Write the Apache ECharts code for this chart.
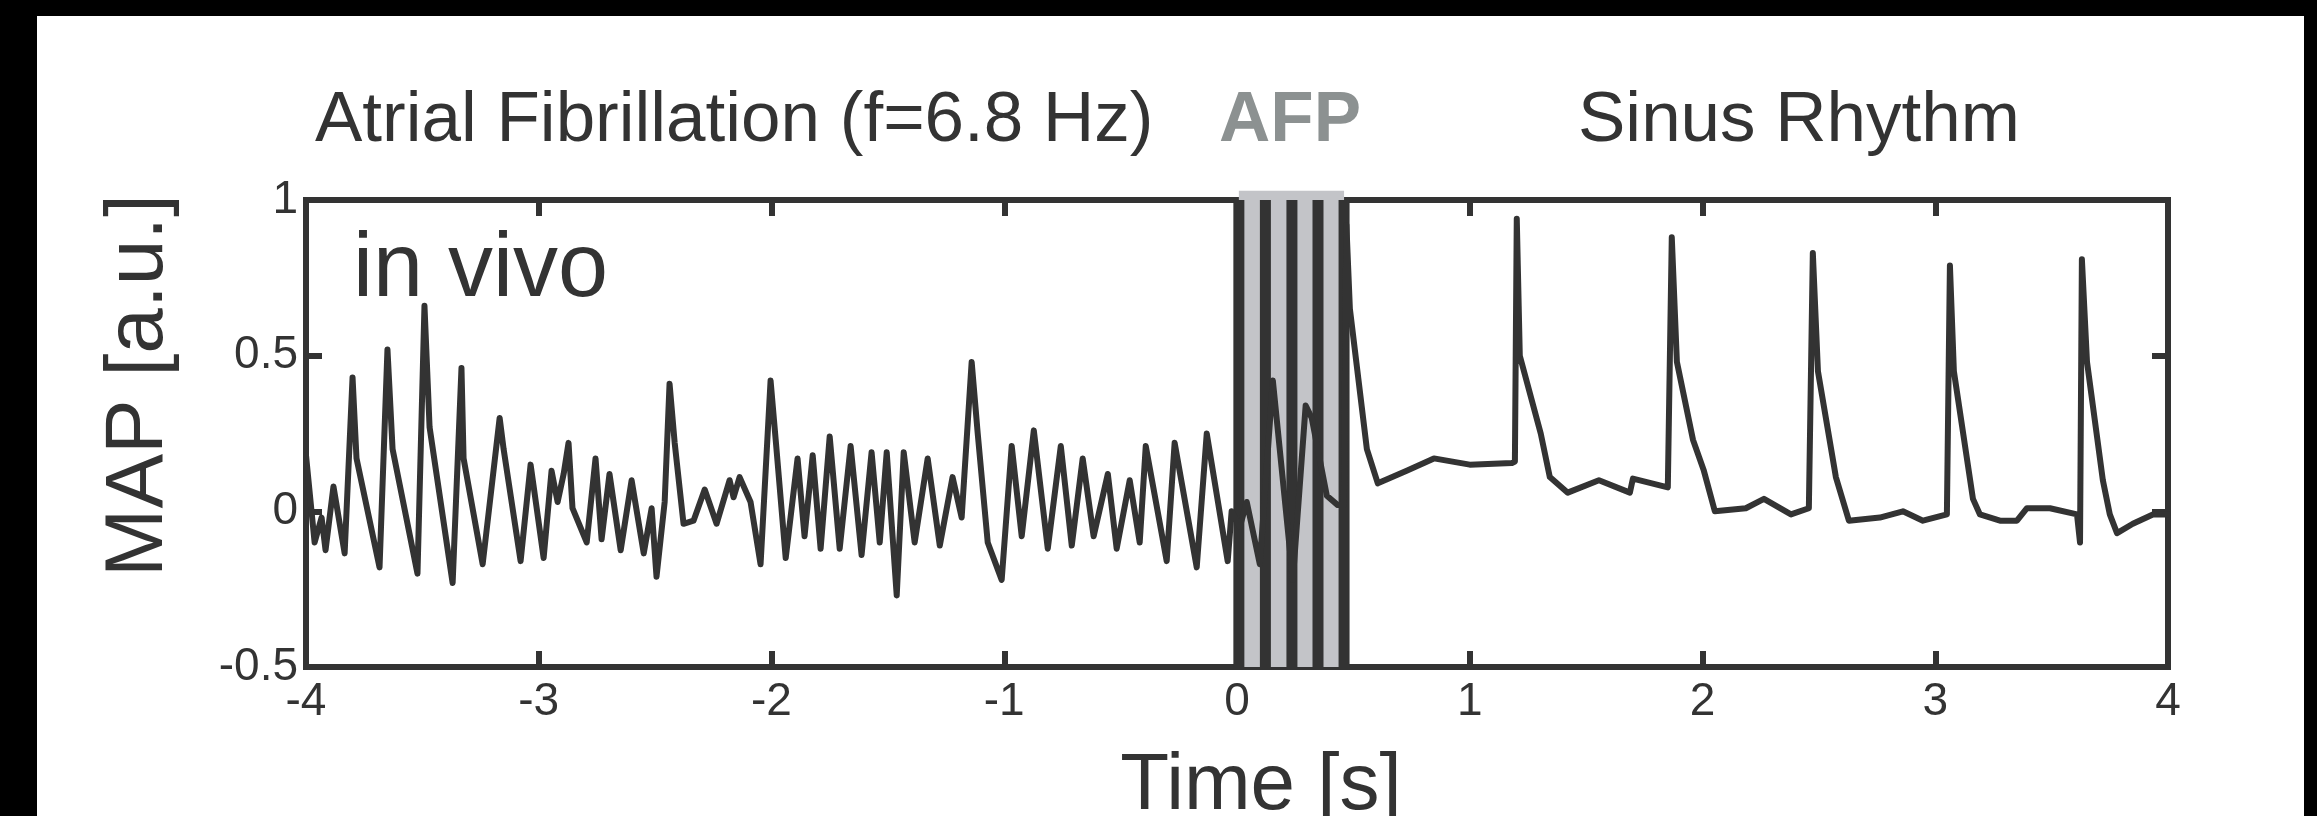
<!DOCTYPE html>
<html>
<head>
<meta charset="utf-8">
<script src="https://cdn.jsdelivr.net/npm/echarts@6/dist/echarts.min.js"></script>
<style>
html,body{margin:0;padding:0;background:#000;width:2317px;height:816px;overflow:hidden}
#c{position:absolute;left:37px;top:16px;width:2267px;height:800px;background:#fff}
</style>
</head>
<body>
<div id="c"></div>
<script>
// ---- data ----
const timeS = [
  -4.000,-3.963,-3.933,-3.916,-3.882,-3.834,-3.800,-3.783,-3.684,-3.650,-3.628,-3.521,-3.491,-3.469,
  -3.370,-3.332,-3.323,-3.241,-3.168,-3.151,-3.078,-3.035,-2.979,-2.945,-2.919,-2.893,-2.872,-2.855,
  -2.794,-2.756,-2.730,-2.696,-2.648,-2.601,-2.549,-2.515,-2.494,-2.459,-2.438,-2.416,-2.378,-2.335,
  -2.287,-2.236,-2.180,-2.163,-2.137,-2.090,-2.047,-2.004,-1.982,-1.939,-1.888,-1.858,-1.823,-1.789,
  -1.750,-1.707,-1.660,-1.613,-1.570,-1.535,-1.505,-1.462,-1.432,-1.385,-1.329,-1.277,-1.222,-1.183,
  -1.140,-1.114,-1.071,-1.011,-0.968,-0.925,-0.873,-0.813,-0.757,-0.710,-0.663,-0.616,-0.555,-0.517,
  -0.461,-0.418,-0.392,-0.375,-0.302,-0.268,-0.173,-0.130,-0.040,-0.023,0.012,0.042,0.098,0.154,
  0.240,0.295,0.321,0.386,0.433,0.459,0.470,0.485,0.558,0.605,0.729,0.846,1.000,1.181,1.194,1.202,
  1.215,1.305,1.344,1.421,1.555,1.688,1.701,1.851,1.868,1.890,1.959,2.006,2.053,2.186,2.264,2.380,
  2.457,2.474,2.496,2.573,2.629,2.762,2.861,2.947,3.050,3.063,3.080,3.162,3.192,3.278,3.351,3.394,
  3.493,3.609,3.622,3.630,3.652,3.720,3.750,3.781,3.849,3.935,4.000
];
const mapAU = [
  0.18,-0.10,-0.02,-0.125,0.08,-0.135,0.43,0.17,-0.18,0.52,0.20,-0.20,0.66,0.27,
  -0.23,0.46,0.17,-0.17,0.30,0.20,-0.16,0.15,-0.15,0.13,0.03,0.12,0.22,0.01,
  -0.10,0.17,-0.09,0.12,-0.125,0.10,-0.135,0.01,-0.21,0.03,0.41,0.22,-0.04,-0.03,
  0.07,-0.04,0.10,0.045,0.11,0.03,-0.17,0.42,0.23,-0.15,0.17,-0.08,0.18,-0.12,
  0.24,-0.12,0.21,-0.14,0.19,-0.10,0.19,-0.27,0.19,-0.10,0.17,-0.11,0.11,-0.02,
  0.48,0.25,-0.10,-0.22,0.21,-0.08,0.26,-0.12,0.21,-0.11,0.17,-0.08,0.12,-0.12,
  0.10,-0.10,0.21,0.14,-0.16,0.22,-0.18,0.25,-0.16,0.00,-0.05,0.03,-0.17,0.42,
  -0.22,0.34,0.30,0.05,0.02,0.02,0.92,0.65,0.20,0.09,0.13,0.17,0.15,0.155,0.16,0.94,
  0.50,0.25,0.11,0.06,0.10,0.06,0.105,0.077,0.88,0.48,0.23,0.13,0.00,0.01,0.04,-0.01,
  0.01,0.83,0.45,0.11,-0.03,-0.02,0.00,-0.03,-0.01,0.79,0.45,0.04,-0.01,-0.03,-0.03,0.01,
  0.01,-0.01,-0.10,0.81,0.48,0.10,-0.01,-0.07,-0.04,-0.01,-0.01
];
// AFP pacing pulses (s) and the shaded AFP window
const afpPulses = [0.008, 0.122, 0.236, 0.348, 0.460];
const afpBand = [0.008, 0.460];
const afpBandTop = 1.03;
const xRange = [-4, 4];
const yRange = [-0.5, 1];
const xStep = 1;
const yStep = 0.5;
const headings = ['Atrial Fibrillation (f=6.8 Hz)', 'AFP', 'Sinus Rhythm'];
const insetLabel = 'in vivo';
const xName = 'Time [s]';
const yName = 'MAP [a.u.]';

// ---- chart ----
const FONT = '"Liberation Sans", Arial, Helvetica, sans-serif';
const INK = '#333333';
const chart = echarts.init(document.getElementById('c'), null, {renderer: 'canvas'});

const axisLine = {show: true, onZero: false, lineStyle: {color: INK, width: 6, cap: 'square'}};
const axisTick = {show: true, inside: true, length: 16, lineStyle: {color: INK, width: 6}};

const option = {
  backgroundColor: '#ffffff',
  animation: false,
  grid: {left: 269, right: 136, top: 184, bottom: 149, containLabel: false, outerBoundsMode: 'none'},
  xAxis: [
    {
      type: 'value', position: 'bottom', min: xRange[0], max: xRange[1], interval: xStep,
      axisLine, axisTick, splitLine: {show: false},
      axisLabel: {color: INK, fontSize: 46, fontFamily: FONT, margin: 12},
      name: xName, nameLocation: 'middle', nameGap: 80,
      nameTextStyle: {color: INK, fontSize: 80, fontFamily: FONT, padding: [0, 0, 0, 48]}
    },
    {
      type: 'value', position: 'top', min: xRange[0], max: xRange[1], interval: xStep,
      axisLine, axisTick, splitLine: {show: false}, axisLabel: {show: false}
    }
  ],
  yAxis: [
    {
      type: 'value', position: 'left', min: yRange[0], max: yRange[1], interval: yStep,
      axisLine, axisTick, splitLine: {show: false},
      axisLabel: {color: INK, fontSize: 46, fontFamily: FONT, margin: 8},
      name: yName, nameLocation: 'middle', nameGap: 126,
      nameTextStyle: {color: INK, fontSize: 82, fontFamily: FONT, padding: [0, 0, 0, 96]}
    },
    {
      type: 'value', position: 'right', min: yRange[0], max: yRange[1], interval: yStep,
      axisLine, axisTick, splitLine: {show: false}, axisLabel: {show: false}
    }
  ],
  graphic: [
    {type: 'text', left: 278, top: 70, style: {text: headings[0], font: '71px ' + FONT, fill: INK}},
    {type: 'text', left: 1182, top: 70, style: {text: headings[1], font: 'bold 71px ' + FONT, fill: '#8c9191'}},
    {type: 'text', left: 1541, top: 70, style: {text: headings[2], font: '71px ' + FONT, fill: INK}},
    {type: 'text', left: 316, top: 210, z: 50, style: {text: insetLabel, font: '90px ' + FONT, fill: INK}}
  ],
  series: [
    {
      type: 'custom', name: 'AFP window', z: 1, clip: false,
      data: [afpBand],
      renderItem: function (params, api) {
        const p0 = api.coord([api.value(0), afpBandTop]);
        const p1 = api.coord([api.value(1), yRange[0]]);
        return {type: 'rect', shape: {x: p0[0], y: p0[1], width: p1[0] - p0[0], height: p1[1] - p0[1]},
                style: {fill: '#c3c4c8'}};
      }
    },
    {
      type: 'custom', name: 'AFP pulses', z: 2, clip: true,
      data: afpPulses.map(t => [t]),
      renderItem: function (params, api) {
        const top = api.coord([api.value(0), yRange[1]]);
        const bot = api.coord([api.value(0), yRange[0]]);
        const w = 11;
        return {type: 'rect', shape: {x: top[0] - w / 2, y: top[1], width: w, height: bot[1] - top[1]},
                style: {fill: INK}};
      }
    },
    {
      type: 'line', name: 'MAP', z: 3, clip: true,
      showSymbol: false, symbol: 'none', smooth: false,
      lineStyle: {color: INK, width: 6, join: 'round', cap: 'round'},
      data: timeS.map((t, i) => [t, mapAU[i]])
    }
  ]
};
chart.setOption(option);
</script>
</body>
</html>
